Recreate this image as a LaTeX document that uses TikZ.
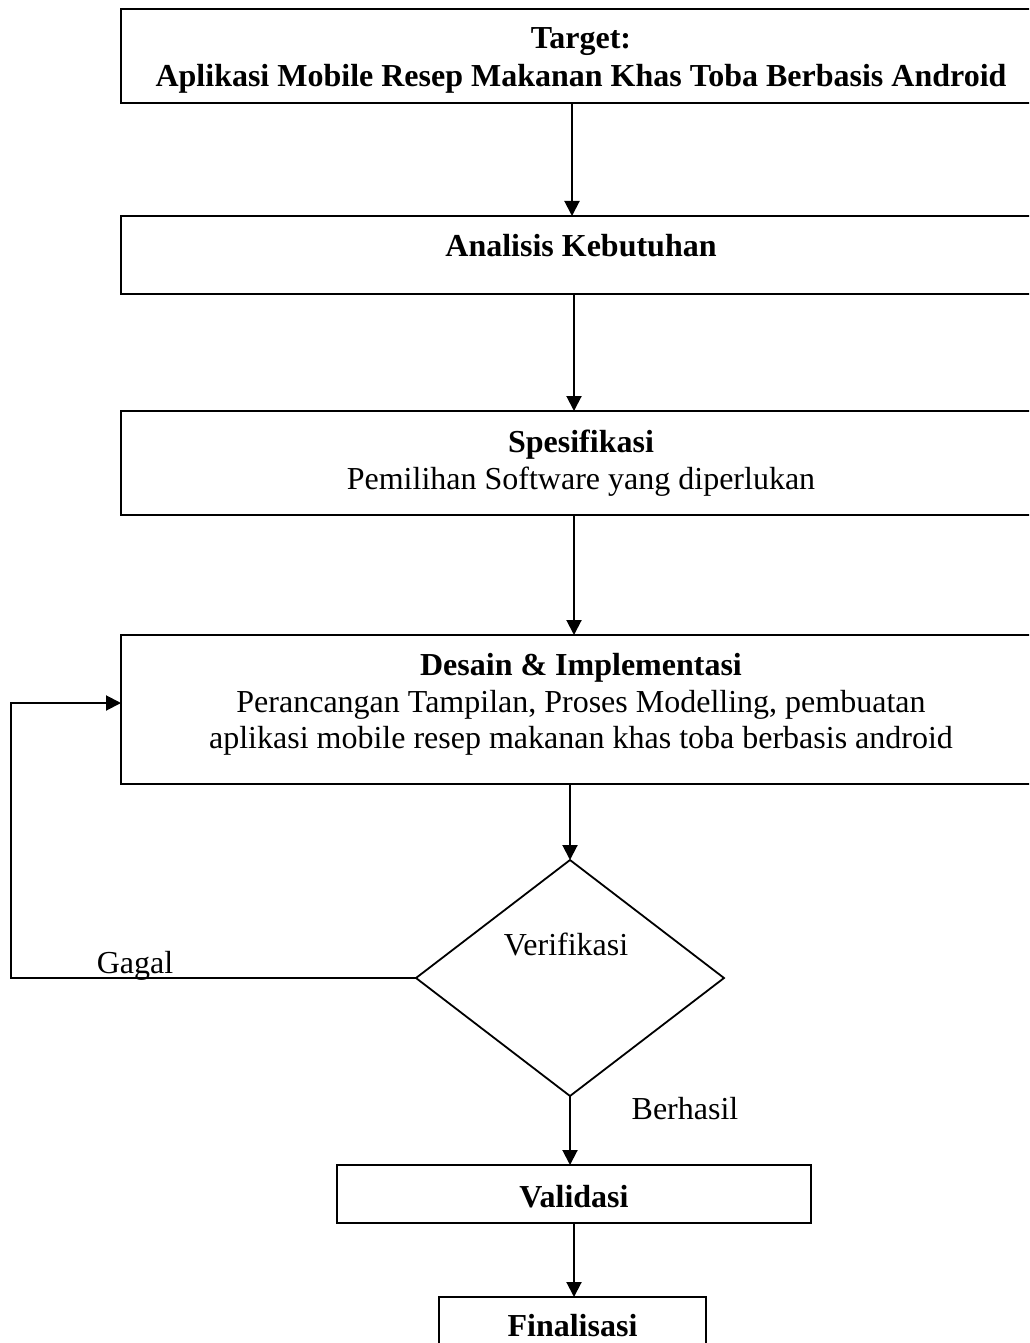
\documentclass[tikz,border=0pt]{standalone}
\usepackage{fontspec}
\setmainfont{Liberation Serif}
\usetikzlibrary{arrows.meta,shapes.geometric}
\tikzset{
  boxnode/.style={draw, line width=2.4pt, rectangle, inner sep=0pt, outer sep=0pt},
  txt/.style={font=\fontsize{32}{37}\selectfont, inner sep=0pt, anchor=base},
  btxt/.style={inner sep=0pt, anchor=base, font=\fontsize{32}{37}\selectfont\bfseries},
  conn/.style={line width=2pt, -{Triangle[length=15pt,width=15pt]}},
  decision/.style={draw, diamond, line width=1.8pt, inner sep=0pt, outer sep=0pt}
}
\begin{document}
\begin{tikzpicture}[x=1pt,y=-1pt]
\useasboundingbox (0,0) rectangle (1029,1343);
\clip (0,0) rectangle (1029,1343);
\fill[white] (0,0) rectangle (1029,1343);

% Box 1: Target
\node[boxnode, minimum width=920pt, minimum height=94pt] (b1) at (581,56) {};
\node[btxt] (t1a) at (581,49) {Target:};
\node[btxt] (t1b) at (581,87) {Aplikasi Mobile Resep Makanan Khas Toba Berbasis Android};

% Box 2: Analisis
\node[boxnode, minimum width=920pt, minimum height=78pt] (b2) at (581,255) {};
\node[btxt] (t2) at (581,256) {Analisis Kebutuhan};

% Box 3: Spesifikasi
\node[boxnode, minimum width=920pt, minimum height=104pt] (b3) at (581,463) {};
\node[btxt] (t3a) at (581,452) {Spesifikasi};
\node[txt] (t3b) at (581,489) {Pemilihan Software yang diperlukan};

% Box 4: Desain
\node[boxnode, minimum width=920pt, minimum height=149pt] (b4) at (581,709.5) {};
\node[btxt] (t4a) at (581,675) {Desain \& Implementasi};
\node[txt] (t4b) at (581,712) {Perancangan Tampilan, Proses Modelling, pembuatan};
\node[txt] (t4c) at (581,748) {aplikasi mobile resep makanan khas toba berbasis android};

% Decision
\node[decision, minimum width=308pt, minimum height=236pt] (dia) at (570,978) {};
\node[txt] (tv) at (566,955) {Verifikasi};

% Validasi
\node[boxnode, minimum width=474pt, minimum height=58pt] (val) at (574,1194) {};
\node[btxt] (tval) at (574,1207) {Validasi};

% Finalisasi
\node[boxnode, minimum width=267pt, minimum height=78pt] (fin) at (572.5,1336) {};
\node[btxt] (tfin) at (572.5,1336) {Finalisasi};

% Connectors
\draw[conn] ([xshift=-9pt]b1.south) -- ([xshift=-9pt]b2.north);
\draw[conn] ([xshift=-7pt]b2.south) -- ([xshift=-7pt]b3.north);
\draw[conn] ([xshift=-7pt]b3.south) -- ([xshift=-7pt]b4.north);
\draw[conn] (b4.south -| dia.north) -- (dia.north);
\draw[conn] (dia.south) -- (dia.south |- val.north);
\draw[conn] (val.south) -- (val.south |- fin.north);

% Gagal loop
\coordinate (lb) at (11,978);
\coordinate (lt) at (11,703);
\draw[conn] (dia.west) -- (lb) -- (lt) -- (lt -| b4.west);

% Labels
\node[txt] (gagal) at (135,973) {Gagal};
\node[txt] (berhasil) at (685,1119) {Berhasil};
\end{tikzpicture}
\end{document}
